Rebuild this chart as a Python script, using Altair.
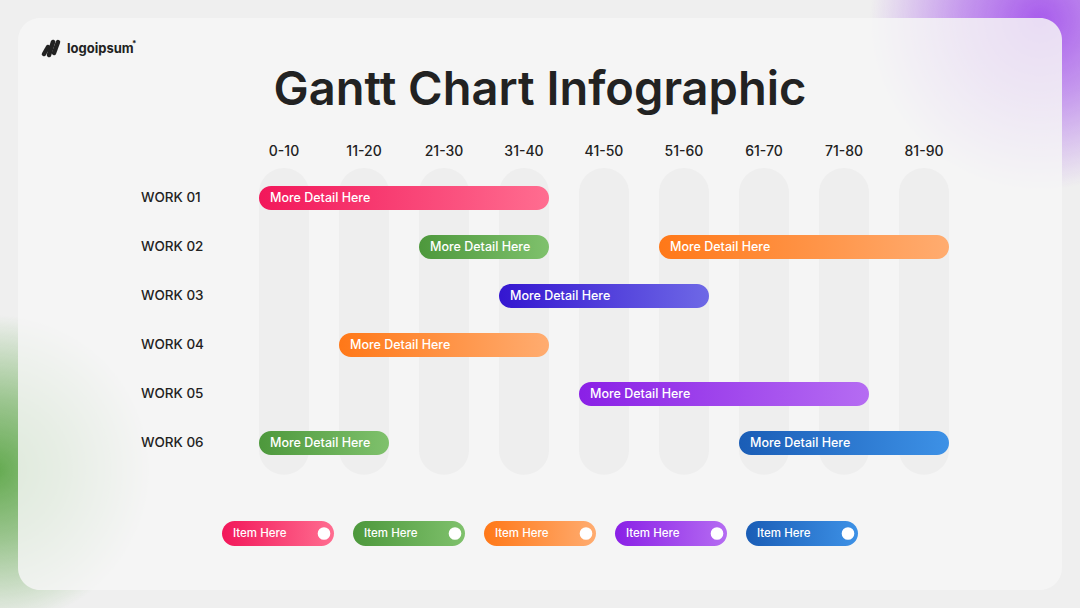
import altair as alt
import pandas as pd

# ---------------- data ----------------
columns = ["0-10", "11-20", "21-30", "31-40", "41-50", "51-60", "61-70", "71-80", "81-90"]
works = ["WORK 01", "WORK 02", "WORK 03", "WORK 04", "WORK 05", "WORK 06"]

task_work = ["WORK 01", "WORK 02", "WORK 02", "WORK 03", "WORK 04", "WORK 05", "WORK 06", "WORK 06"]
task_start = ["0-10", "21-30", "51-60", "31-40", "11-20", "41-50", "0-10", "61-70"]
task_end = ["31-40", "31-40", "81-90", "51-60", "31-40", "71-80", "11-20", "81-90"]
task_color = ["pink", "green", "orange", "indigo", "orange", "purple", "green", "blue"]
task_label = ["More Detail Here"] * 8

legend_labels = ["Item Here"] * 5
legend_colors = ["pink", "green", "orange", "purple", "blue"]

palette = {
    "pink": ("#f2175a", "#ff6d90"),
    "green": ("#4d983c", "#7fc16c"),
    "orange": ("#ff7818", "#ffac70"),
    "indigo": ("#3416d0", "#6e68e6"),
    "purple": ("#8a20e6", "#b56cf2"),
    "blue": ("#1a5db6", "#3d91e6"),
}

FONT = "Inter"
W, H = 1080, 608

# scales: column index -> x, row index -> y
xs = alt.Scale(domain=[-3.55, 9.95], nice=False, zero=False, padding=0)
ys = alt.Scale(domain=[-198 / 49, (608 - 198) / 49], nice=False, zero=False, reverse=True, padding=0)
X = lambda f: alt.X(f"{f}:Q", scale=xs, axis=None)
Y = lambda f: alt.Y(f"{f}:Q", scale=ys, axis=None)

half = 25 / 80  # half column width in column units

col_df = pd.DataFrame({"label": columns, "ci": range(len(columns))})
col_df["top"] = -0.61
col_df["bot"] = 5.65
col_df["ly"] = -0.94

row_df = pd.DataFrame({"work": works, "ri": range(len(works))})
row_df["lx"] = (141 - 284) / 80

task_df = pd.DataFrame({"work": task_work, "start": task_start, "end": task_end,
                        "color": task_color, "label": task_label})
task_df["ri"] = task_df["work"].map(works.index)
task_df["x0"] = task_df["start"].map(columns.index) - half
task_df["x1"] = task_df["end"].map(columns.index) + half

leg_df = pd.DataFrame({"label": legend_labels, "color": legend_colors, "k": range(5)})
leg_df["x0"] = (222 - 284) / 80 + leg_df["k"] * 131 / 80
leg_df["x1"] = leg_df["x0"] + 112 / 80
leg_df["xc"] = leg_df["x1"] - 10 / 80
leg_df["y"] = (533.5 - 198) / 49

one = pd.DataFrame({"a": [0]})


def lin(c):
    a, b = palette[c]
    return alt.Gradient(gradient="linear", x1=0, y1=0, x2=1, y2=0,
                        stops=[alt.GradientStop(color=a, offset=0),
                               alt.GradientStop(color=b, offset=1)])


def radial(r, g, b, a0):
    return alt.Gradient(gradient="radial", x1=0.5, y1=0.5, r1=0, x2=0.5, y2=0.5, r2=0.5,
                        stops=[alt.GradientStop(color=f"rgba({r},{g},{b},{a0})", offset=0),
                               alt.GradientStop(color=f"rgba({r},{g},{b},{a0 * 0.6:.2f})", offset=0.45),
                               alt.GradientStop(color=f"rgba({r},{g},{b},0)", offset=1)])


layers = []

# decorative blobs
layers.append(alt.Chart(one).mark_rect(fill=radial(168, 92, 236, 1.0)).encode(
    x=alt.value(870), x2=alt.value(1210), y=alt.value(-150), y2=alt.value(190)))
layers.append(alt.Chart(one).mark_rect(fill=radial(100, 170, 80, 1.0)).encode(
    x=alt.value(-160), x2=alt.value(150), y=alt.value(315), y2=alt.value(625)))

# card
layers.append(alt.Chart(one).mark_rect(fill="#f5f5f5", opacity=0.84, cornerRadius=22).encode(
    x=alt.value(18), x2=alt.value(1062), y=alt.value(18), y2=alt.value(590)))

# column pills
layers.append(alt.Chart(col_df).mark_bar(size=50, cornerRadius=25, color="#eeeeee").encode(
    x=X("ci"), y=Y("top"), y2="bot"))

# column labels
layers.append(alt.Chart(col_df).mark_text(font=FONT, fontSize=14, fontWeight=500, color="#222222",
                                          baseline="middle").encode(
    x=X("ci"), y=Y("ly"), text="label:N"))

# row labels
layers.append(alt.Chart(row_df).mark_text(font=FONT, fontSize=13.5, fontWeight=500, color="#222222",
                                          align="left", baseline="middle").encode(
    x=X("lx"), y=Y("ri"), text="work:N"))

# task bars
for c in palette:
    sub = task_df[task_df["color"] == c]
    if len(sub) == 0:
        continue
    layers.append(alt.Chart(sub).mark_bar(size=24, cornerRadius=12, fill=lin(c)).encode(
        x=X("x0"), x2="x1", y=Y("ri")))

layers.append(alt.Chart(task_df).mark_text(font=FONT, fontSize=12.5, fontWeight=500, color="white",
                                           align="left", baseline="middle", dx=11).encode(
    x=X("x0"), y=Y("ri"), text="label:N"))

# legend pills
for c in legend_colors:
    sub = leg_df[leg_df["color"] == c]
    layers.append(alt.Chart(sub).mark_bar(size=25, cornerRadius=12.5, fill=lin(c)).encode(
        x=X("x0"), x2="x1", y=Y("y")))
layers.append(alt.Chart(leg_df).mark_text(font=FONT, fontSize=11.5, fontWeight=500, color="white",
                                          align="left", baseline="middle", dx=11).encode(
    x=X("x0"), y=Y("y"), text="label:N"))
layers.append(alt.Chart(leg_df).mark_point(shape="circle", size=160, filled=True, color="white",
                                           opacity=1).encode(
    x=X("xc"), y=Y("y")))

# title
layers.append(alt.Chart(one).mark_text(text="Gantt Chart Infographic", font=FONT, fontSize=47,
                                       fontWeight=600, color="#222222", align="center",
                                       baseline="alphabetic").encode(
    x=alt.value(540), y=alt.value(105)))

# logo
layers.append(alt.Chart(one).mark_text(text="logoipsum", font=FONT, fontSize=13, fontWeight=700,
                                       color="#222222", align="left", baseline="middle").encode(
    x=alt.value(67), y=alt.value(49)))
layers.append(alt.Chart(one).mark_text(text="*", font=FONT, fontSize=8, fontWeight=700,
                                       color="#222222", align="left", baseline="middle").encode(
    x=alt.value(132), y=alt.value(44)))
logo_x1 = [44, 49, 54]
logo_y1 = [54, 55, 53]
logo_x2 = [48, 53, 58]
logo_y2 = [47, 42, 42]
for a, b, c2, d in zip(logo_x1, logo_y1, logo_x2, logo_y2):
    layers.append(alt.Chart(one).mark_rule(strokeWidth=4.5, strokeCap="round", color="#222222").encode(
        x=alt.value(a), y=alt.value(b), x2=alt.value(c2), y2=alt.value(d)))

chart = alt.layer(*layers).properties(
    width=W, height=H, padding=0, autosize=alt.AutoSizeParams(type="none"),
    background="#efefef",
).configure_view(stroke=None)

chart.save("out.html", embed_options={"renderer": "svg", "actions": False})
